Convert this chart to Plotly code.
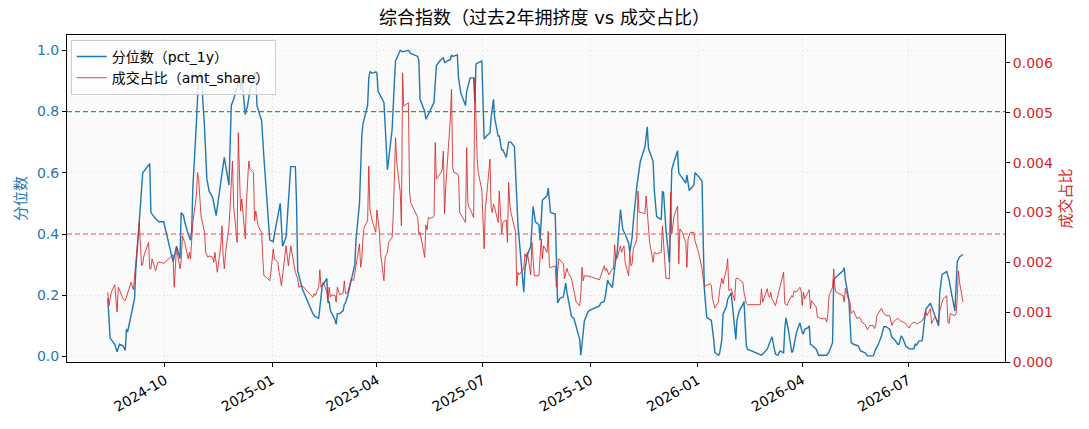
import plotly.graph_objects as go

# ---- 分位数（pct_1y） ----
pct_dates = [
    "2024-08-13","2024-08-15","2024-08-19","2024-08-21","2024-08-23","2024-08-26","2024-08-28","2024-08-29",
    "2024-08-30","2024-09-02","2024-09-04","2024-09-05","2024-09-06","2024-09-09","2024-09-11","2024-09-12",
    "2024-09-16","2024-09-18","2024-09-19","2024-09-23","2024-09-26","2024-09-30","2024-10-08","2024-10-10",
    "2024-10-11","2024-10-14","2024-10-15","2024-10-17","2024-10-18","2024-10-21","2024-10-23","2024-10-24",
    "2024-10-25","2024-10-28","2024-10-30","2024-11-01","2024-11-04","2024-11-06","2024-11-08","2024-11-11",
    "2024-11-14","2024-11-18","2024-11-19","2024-11-21","2024-11-25","2024-11-27","2024-11-29","2024-12-02",
    "2024-12-04","2024-12-05","2024-12-06","2024-12-09","2024-12-11","2024-12-13","2024-12-16","2024-12-18",
    "2024-12-19","2024-12-23","2024-12-25","2024-12-27","2024-12-30","2025-01-02","2025-01-03","2025-01-08",
    "2025-01-10","2025-01-13","2025-01-15","2025-01-17","2025-01-21","2025-01-22","2025-01-23","2025-01-27",
    "2025-02-05","2025-02-07","2025-02-10","2025-02-11","2025-02-13","2025-02-17","2025-02-18","2025-02-19",
    "2025-02-20","2025-02-24","2025-02-25","2025-02-26","2025-02-28","2025-03-03","2025-03-04","2025-03-05",
    "2025-03-07","2025-03-10","2025-03-12","2025-03-13","2025-03-14","2025-03-17","2025-03-19","2025-03-20",
    "2025-03-24","2025-03-25","2025-03-26","2025-03-28","2025-03-31","2025-04-01","2025-04-02","2025-04-07",
    "2025-04-08","2025-04-10","2025-04-14","2025-04-15","2025-04-16","2025-04-17","2025-04-21","2025-04-23",
    "2025-04-28","2025-04-30","2025-05-06","2025-05-07","2025-05-08","2025-05-12","2025-05-13","2025-05-15",
    "2025-05-19","2025-05-20","2025-05-22","2025-05-26","2025-05-28","2025-05-29","2025-06-03","2025-06-04",
    "2025-06-05","2025-06-09","2025-06-10","2025-06-12","2025-06-16","2025-06-17","2025-06-20","2025-06-23",
    "2025-06-24","2025-06-25","2025-06-27","2025-06-30","2025-07-02","2025-07-04","2025-07-07","2025-07-08",
    "2025-07-10","2025-07-11","2025-07-14","2025-07-15","2025-07-17","2025-07-18","2025-07-21","2025-07-23",
    "2025-07-25","2025-07-28","2025-07-31","2025-08-04","2025-08-05","2025-08-06","2025-08-08","2025-08-11",
    "2025-08-13","2025-08-15","2025-08-18","2025-08-19","2025-08-21","2025-08-25","2025-08-26","2025-08-28",
    "2025-09-01","2025-09-03","2025-09-05","2025-09-08","2025-09-10","2025-09-11","2025-09-15","2025-09-17",
    "2025-09-19","2025-09-22","2025-09-23","2025-09-25","2025-09-26","2025-09-29","2025-09-30","2025-10-09",
    "2025-10-10","2025-10-13","2025-10-14","2025-10-16","2025-10-17","2025-10-20","2025-10-22","2025-10-23",
    "2025-10-24","2025-10-27","2025-10-29","2025-10-31","2025-11-03","2025-11-04","2025-11-06","2025-11-07",
    "2025-11-10","2025-11-12","2025-11-13","2025-11-17","2025-11-19","2025-11-20","2025-11-24","2025-11-25",
    "2025-11-27","2025-12-01","2025-12-02","2025-12-03","2025-12-04","2025-12-05","2025-12-08","2025-12-09",
    "2025-12-10","2025-12-12","2025-12-15","2025-12-16","2025-12-18","2025-12-22","2025-12-23","2025-12-25",
    "2025-12-29","2025-12-30","2026-01-02","2026-01-05","2026-01-06","2026-01-07","2026-01-09","2026-01-12",
    "2026-01-13","2026-01-15","2026-01-16","2026-01-19","2026-01-20","2026-01-22","2026-01-23","2026-01-26",
    "2026-01-27","2026-01-30","2026-02-02","2026-02-03","2026-02-04","2026-02-06","2026-02-09","2026-02-10",
    "2026-02-12","2026-02-13","2026-02-25","2026-02-27","2026-03-02","2026-03-04","2026-03-05","2026-03-06",
    "2026-03-09","2026-03-11","2026-03-13","2026-03-16","2026-03-17","2026-03-18","2026-03-20","2026-03-23",
    "2026-03-24","2026-03-26","2026-03-27","2026-03-30","2026-04-01","2026-04-02","2026-04-03","2026-04-06",
    "2026-04-07","2026-04-08","2026-04-10","2026-04-13","2026-04-15","2026-04-22","2026-04-24","2026-04-27",
    "2026-04-28","2026-04-30","2026-05-06","2026-05-07","2026-05-08","2026-05-11","2026-05-12","2026-05-13",
    "2026-05-15","2026-05-19","2026-05-21","2026-05-25","2026-05-27","2026-06-01","2026-06-03","2026-06-05",
    "2026-06-08","2026-06-10","2026-06-12","2026-06-15","2026-06-17","2026-06-19","2026-06-22","2026-06-23",
    "2026-06-25","2026-06-26","2026-06-29","2026-07-02","2026-07-06","2026-07-07","2026-07-08","2026-07-10",
    "2026-07-13","2026-07-14","2026-07-16","2026-07-20","2026-07-22","2026-07-24","2026-07-27","2026-07-28",
    "2026-07-30","2026-08-03","2026-08-05","2026-08-07","2026-08-10","2026-08-12","2026-08-14","2026-08-17",
]
pct_values = [
    0.19,0.06,0.04,0.015,0.04,0.035,0.02,0.09,
    0.08,0.14,0.18,0.19,0.28,0.45,0.55,0.60,
    0.62,0.63,0.47,0.45,0.44,0.44,0.31,0.34,
    0.36,0.32,0.47,0.46,0.44,0.40,0.38,0.41,
    0.55,0.76,0.92,0.93,0.75,0.58,0.54,0.52,
    0.46,0.57,0.60,0.65,0.56,0.82,0.84,0.88,
    0.92,0.87,0.91,0.79,0.82,0.87,0.91,0.93,
    0.82,0.77,0.65,0.53,0.38,0.375,0.40,0.50,
    0.36,0.39,0.50,0.62,0.62,0.50,0.28,0.22,
    0.14,0.13,0.125,0.165,0.23,0.255,0.175,0.18,
    0.15,0.12,0.105,0.14,0.14,0.15,0.17,0.175,
    0.20,0.25,0.28,0.30,0.38,0.50,0.72,0.76,
    0.82,0.91,0.93,0.925,0.93,0.925,0.865,0.83,
    0.76,0.61,0.74,0.85,0.90,0.965,1.0,0.995,
    1.0,0.99,0.98,0.965,0.84,0.80,0.775,0.79,
    0.82,0.83,0.95,0.97,0.975,0.96,0.97,0.985,
    0.98,0.985,0.91,0.86,0.82,0.865,0.91,0.91,
    0.83,0.955,0.96,0.965,0.71,0.72,0.73,0.78,
    0.84,0.78,0.72,0.72,0.675,0.675,0.65,0.70,
    0.70,0.685,0.43,0.27,0.21,0.285,0.33,0.36,
    0.49,0.44,0.43,0.38,0.51,0.525,0.55,0.47,
    0.465,0.175,0.19,0.195,0.24,0.21,0.13,0.125,
    0.095,0.056,0.004,0.08,0.116,0.145,0.15,0.165,
    0.175,0.18,0.197,0.25,0.24,0.225,0.295,0.32,
    0.333,0.48,0.414,0.40,0.37,0.34,0.39,0.44,
    0.555,0.62,0.637,0.685,0.75,0.68,0.637,0.545,
    0.457,0.447,0.54,0.535,0.457,0.414,0.306,0.46,
    0.61,0.637,0.672,0.60,0.59,0.566,0.593,0.542,
    0.56,0.60,0.588,0.572,0.38,0.22,0.127,0.12,
    0.118,0.056,0.013,0.004,0.008,0.056,0.138,0.165,
    0.187,0.208,0.10,0.056,0.12,0.149,0.17,0.18,
    0.035,0.024,0.004,0.012,0.024,0.045,0.056,0.064,
    0.008,0.004,0.018,0.012,0.089,0.127,0.089,0.013,
    0.018,0.056,0.078,0.11,0.078,0.073,0.089,0.094,
    0.10,0.04,0.035,0.024,0.004,0.004,0.015,0.045,
    0.25,0.26,0.28,0.29,0.25,0.187,0.10,0.045,
    0.04,0.035,0.018,0.012,0.002,0.002,0.024,0.037,
    0.067,0.097,0.097,0.089,0.062,0.056,0.04,0.04,
    0.067,0.062,0.033,0.024,0.026,0.04,0.037,0.05,
    0.052,0.08,0.154,0.174,0.152,0.127,0.10,0.208,
    0.268,0.277,0.25,0.208,0.149,0.31,0.325,0.333,
]

# ---- 成交占比（amt_share） ----
amt_dates = [
    "2024-08-13","2024-08-14","2024-08-16","2024-08-19","2024-08-21","2024-08-22","2024-08-23","2024-08-26",
    "2024-08-28","2024-08-30","2024-09-02","2024-09-04","2024-09-05","2024-09-06","2024-09-09","2024-09-11",
    "2024-09-12","2024-09-13","2024-09-17","2024-09-18","2024-09-19","2024-09-20","2024-09-23","2024-09-25",
    "2024-09-27","2024-09-30","2024-10-08","2024-10-09","2024-10-10","2024-10-11","2024-10-14","2024-10-15",
    "2024-10-16","2024-10-17","2024-10-18","2024-10-21","2024-10-22","2024-10-23","2024-10-25","2024-10-28",
    "2024-10-29","2024-10-30","2024-11-01","2024-11-04","2024-11-05","2024-11-07","2024-11-08","2024-11-11",
    "2024-11-12","2024-11-13","2024-11-15","2024-11-18","2024-11-19","2024-11-20","2024-11-21","2024-11-22",
    "2024-11-25","2024-11-26","2024-11-28","2024-11-29","2024-12-02","2024-12-03","2024-12-05","2024-12-06",
    "2024-12-09","2024-12-10","2024-12-12","2024-12-13","2024-12-16","2024-12-17","2024-12-18","2024-12-20",
    "2024-12-23","2024-12-24","2024-12-25","2024-12-26","2024-12-30","2024-12-31","2025-01-02","2025-01-03",
    "2025-01-06","2025-01-07","2025-01-08","2025-01-09","2025-01-13","2025-01-15","2025-01-16","2025-01-17",
    "2025-01-20","2025-01-21","2025-01-23","2025-01-24","2025-01-27","2025-02-05","2025-02-06","2025-02-07",
    "2025-02-10","2025-02-11","2025-02-12","2025-02-13","2025-02-14","2025-02-17","2025-02-18","2025-02-19",
    "2025-02-20","2025-02-21","2025-02-24","2025-02-25","2025-02-26","2025-02-28","2025-03-03","2025-03-04",
    "2025-03-05","2025-03-07","2025-03-10","2025-03-12","2025-03-13","2025-03-14","2025-03-17","2025-03-18",
    "2025-03-19","2025-03-20","2025-03-21","2025-03-24","2025-03-25","2025-03-26","2025-03-28","2025-03-31",
    "2025-04-01","2025-04-03","2025-04-04","2025-04-07","2025-04-08","2025-04-10","2025-04-11","2025-04-14",
    "2025-04-15","2025-04-17","2025-04-18","2025-04-21","2025-04-22","2025-04-23","2025-04-24","2025-04-25",
    "2025-04-28","2025-04-29","2025-04-30","2025-05-06","2025-05-07","2025-05-08","2025-05-09","2025-05-12",
    "2025-05-13","2025-05-14","2025-05-15","2025-05-16","2025-05-19","2025-05-20","2025-05-21","2025-05-22",
    "2025-05-23","2025-05-26","2025-05-27","2025-05-28","2025-05-29","2025-05-30","2025-06-03","2025-06-04",
    "2025-06-05","2025-06-06","2025-06-09","2025-06-10","2025-06-11","2025-06-13","2025-06-16","2025-06-17",
    "2025-06-18","2025-06-19","2025-06-20","2025-06-23","2025-06-24","2025-06-26","2025-06-27","2025-06-30",
    "2025-07-01","2025-07-02","2025-07-03","2025-07-04","2025-07-07","2025-07-08","2025-07-09","2025-07-10",
    "2025-07-11","2025-07-14","2025-07-15","2025-07-16","2025-07-17","2025-07-18","2025-07-21","2025-07-22",
    "2025-07-23","2025-07-24","2025-07-25","2025-07-28","2025-07-29","2025-07-30","2025-07-31","2025-08-01",
    "2025-08-04","2025-08-05","2025-08-06","2025-08-07","2025-08-08","2025-08-11","2025-08-12","2025-08-13",
    "2025-08-14","2025-08-18","2025-08-19","2025-08-20","2025-08-21","2025-08-22","2025-08-25","2025-08-26",
    "2025-08-27","2025-08-29","2025-09-01","2025-09-02","2025-09-04","2025-09-05","2025-09-08","2025-09-09",
    "2025-09-11","2025-09-12","2025-09-15","2025-09-17","2025-09-18","2025-09-19","2025-09-22","2025-09-23",
    "2025-09-24","2025-09-25","2025-09-26","2025-09-29","2025-09-30","2025-10-09","2025-10-10","2025-10-13",
    "2025-10-14","2025-10-15","2025-10-17","2025-10-20","2025-10-21","2025-10-22","2025-10-23","2025-10-24",
    "2025-10-27","2025-10-28","2025-10-30","2025-10-31","2025-11-03","2025-11-04","2025-11-05","2025-11-06",
    "2025-11-07","2025-11-10","2025-11-11","2025-11-12","2025-11-14","2025-11-17","2025-11-18","2025-11-19",
    "2025-11-20","2025-11-21","2025-11-24","2025-11-25","2025-11-27","2025-12-01","2025-12-02","2025-12-03",
    "2025-12-04","2025-12-05","2025-12-08","2025-12-09","2025-12-10","2025-12-12","2025-12-15","2025-12-16",
    "2025-12-17","2025-12-19","2025-12-22","2025-12-23","2025-12-24","2025-12-26","2025-12-29","2025-12-30",
    "2026-01-02","2026-01-05","2026-01-06","2026-01-07","2026-01-08","2026-01-12","2026-01-13","2026-01-14",
    "2026-01-16","2026-01-19","2026-01-20","2026-01-22","2026-01-23","2026-01-26","2026-01-27","2026-01-28",
    "2026-01-30","2026-02-02","2026-02-03","2026-02-05","2026-02-06","2026-02-09","2026-02-10","2026-02-12",
    "2026-02-13","2026-02-24","2026-02-25","2026-02-26","2026-03-02","2026-03-03","2026-03-04","2026-03-05",
    "2026-03-06","2026-03-09","2026-03-11","2026-03-13","2026-03-16","2026-03-17","2026-03-19","2026-03-20",
    "2026-03-23","2026-03-24","2026-03-25","2026-03-27","2026-03-30","2026-03-31","2026-04-01","2026-04-02",
    "2026-04-03","2026-04-06","2026-04-07","2026-04-08","2026-04-09","2026-04-10","2026-04-13","2026-04-14",
    "2026-04-15","2026-04-17","2026-04-21","2026-04-22","2026-04-23","2026-04-24","2026-04-27","2026-04-28",
    "2026-04-29","2026-04-30","2026-05-06","2026-05-07","2026-05-08","2026-05-11","2026-05-12","2026-05-13",
    "2026-05-14","2026-05-15","2026-05-18","2026-05-20","2026-05-21","2026-05-22","2026-05-25","2026-05-26",
    "2026-05-27","2026-05-29","2026-06-01","2026-06-02","2026-06-03","2026-06-04","2026-06-05","2026-06-08",
    "2026-06-10","2026-06-12","2026-06-15","2026-06-16","2026-06-17","2026-06-18","2026-06-22","2026-06-24",
    "2026-06-26","2026-06-29","2026-06-30","2026-07-02","2026-07-03","2026-07-06","2026-07-08","2026-07-09",
    "2026-07-13","2026-07-15","2026-07-16","2026-07-17","2026-07-20","2026-07-21","2026-07-22","2026-07-24",
    "2026-07-27","2026-07-28","2026-07-30","2026-07-31","2026-08-03","2026-08-04","2026-08-05","2026-08-06",
    "2026-08-10","2026-08-11","2026-08-12","2026-08-13","2026-08-14","2026-08-17",
]
amt_values = [
    1.40e-3,1.13e-3,1.40e-3,1.55e-3,1.00e-3,1.50e-3,1.45e-3,1.27e-3,
    1.23e-3,1.37e-3,1.60e-3,1.45e-3,1.73e-3,2.10e-3,2.80e-3,1.93e-3,
    1.97e-3,2.13e-3,2.40e-3,1.87e-3,1.87e-3,2.07e-3,1.83e-3,2.00e-3,
    2.00e-3,1.98e-3,2.15e-3,1.50e-3,2.00e-3,2.30e-3,1.87e-3,2.03e-3,
    2.53e-3,2.47e-3,2.40e-3,2.07e-3,2.20e-3,2.07e-3,2.80e-3,3.33e-3,
    3.80e-3,3.67e-3,2.93e-3,2.60e-3,2.20e-3,2.10e-3,2.13e-3,2.10e-3,
    2.00e-3,2.20e-3,1.80e-3,2.33e-3,2.73e-3,2.13e-3,1.87e-3,2.17e-3,
    2.73e-3,3.13e-3,4.03e-3,3.13e-3,2.40e-3,4.60e-3,3.03e-3,3.27e-3,
    2.47e-3,3.20e-3,4.03e-3,3.87e-3,3.80e-3,2.83e-3,3.03e-3,2.73e-3,
    2.60e-3,2.10e-3,1.73e-3,1.72e-3,1.63e-3,1.80e-3,2.27e-3,2.07e-3,
    2.00e-3,1.80e-3,1.70e-3,1.53e-3,2.33e-3,1.93e-3,2.13e-3,2.33e-3,
    1.93e-3,1.80e-3,1.67e-3,1.50e-3,1.53e-3,1.30e-3,1.37e-3,1.33e-3,
    1.50e-3,1.85e-3,1.50e-3,1.55e-3,1.60e-3,1.40e-3,1.23e-3,1.50e-3,
    1.30e-3,1.35e-3,1.33e-3,1.20e-3,1.50e-3,1.35e-3,1.38e-3,1.63e-3,
    1.37e-3,1.40e-3,1.67e-3,1.63e-3,1.80e-3,1.87e-3,2.37e-3,1.90e-3,
    2.07e-3,2.50e-3,2.70e-3,2.83e-3,3.93e-3,3.05e-3,2.83e-3,2.60e-3,
    3.05e-3,2.65e-3,2.20e-3,1.63e-3,2.10e-3,2.20e-3,2.40e-3,2.50e-3,
    2.95e-3,4.50e-3,4.00e-3,3.40e-3,2.73e-3,5.80e-3,5.13e-3,5.15e-3,
    5.20e-3,3.40e-3,3.20e-3,2.90e-3,2.55e-3,2.60e-3,2.45e-3,2.10e-3,
    2.75e-3,2.65e-3,2.90e-3,2.88e-3,2.90e-3,2.93e-3,4.40e-3,3.67e-3,
    3.70e-3,3.80e-3,3.87e-3,4.23e-3,2.97e-3,3.50e-3,4.90e-3,5.47e-3,
    3.90e-3,3.80e-3,3.78e-3,3.73e-3,3.00e-3,2.93e-3,2.80e-3,4.30e-3,
    3.20e-3,3.10e-3,3.07e-3,2.90e-3,5.70e-3,4.07e-3,3.80e-3,3.45e-3,
    2.80e-3,2.27e-3,3.10e-3,3.30e-3,4.07e-3,3.10e-3,3.00e-3,3.17e-3,
    3.10e-3,2.80e-3,3.43e-3,3.10e-3,2.57e-3,2.80e-3,2.85e-3,2.40e-3,
    3.60e-3,3.17e-3,3.00e-3,2.70e-3,2.60e-3,1.53e-3,1.80e-3,1.75e-3,
    1.85e-3,1.87e-3,2.17e-3,2.10e-3,2.20e-3,1.75e-3,2.40e-3,2.13e-3,
    1.73e-3,1.73e-3,2.20e-3,2.47e-3,2.07e-3,2.33e-3,2.20e-3,2.62e-3,
    1.90e-3,1.90e-3,1.93e-3,1.50e-3,2.07e-3,2.05e-3,1.97e-3,1.67e-3,
    1.88e-3,1.80e-3,1.67e-3,1.40e-3,1.33e-3,1.20e-3,1.13e-3,1.37e-3,
    1.90e-3,1.63e-3,1.73e-3,1.72e-3,1.72e-3,1.65e-3,1.72e-3,1.93e-3,
    1.83e-3,1.88e-3,1.75e-3,1.87e-3,1.87e-3,2.35e-3,2.07e-3,2.07e-3,
    2.33e-3,2.20e-3,2.33e-3,2.00e-3,1.73e-3,2.20e-3,1.93e-3,1.97e-3,
    2.27e-3,2.45e-3,3.43e-3,3.00e-3,3.00e-3,2.97e-3,3.33e-3,3.00e-3,
    2.60e-3,2.40e-3,2.00e-3,2.20e-3,2.17e-3,2.20e-3,2.73e-3,2.30e-3,
    1.87e-3,1.68e-3,1.67e-3,3.40e-3,2.57e-3,2.93e-3,3.13e-3,1.97e-3,
    2.67e-3,2.60e-3,2.40e-3,1.90e-3,2.47e-3,2.60e-3,2.60e-3,2.43e-3,
    2.20e-3,1.87e-3,1.67e-3,1.50e-3,1.53e-3,1.57e-3,1.53e-3,1.27e-3,
    1.08e-3,1.20e-3,1.43e-3,1.68e-3,1.57e-3,1.87e-3,2.07e-3,1.43e-3,
    1.47e-3,1.23e-3,1.67e-3,1.68e-3,1.65e-3,1.60e-3,1.40e-3,1.17e-3,
    1.15e-3,1.15e-3,1.47e-3,1.20e-3,1.47e-3,1.33e-3,1.30e-3,1.40e-3,
    1.27e-3,1.13e-3,1.33e-3,1.53e-3,1.80e-3,1.17e-3,1.13e-3,1.20e-3,
    1.33e-3,1.30e-3,1.43e-3,1.40e-3,1.50e-3,1.43e-3,1.13e-3,1.40e-3,
    1.27e-3,1.40e-3,1.45e-3,1.07e-3,1.23e-3,1.20e-3,1.10e-3,0.90e-3,
    0.90e-3,0.87e-3,0.87e-3,0.80e-3,0.97e-3,1.33e-3,1.50e-3,1.87e-3,
    1.50e-3,1.40e-3,1.33e-3,1.20e-3,1.48e-3,1.23e-3,1.20e-3,0.97e-3,
    1.00e-3,1.03e-3,0.87e-3,0.90e-3,0.87e-3,0.80e-3,0.75e-3,0.70e-3,
    0.65e-3,0.73e-3,0.73e-3,0.67e-3,0.73e-3,0.93e-3,0.97e-3,1.08e-3,
    0.97e-3,0.93e-3,0.93e-3,0.83e-3,0.73e-3,0.80e-3,0.88e-3,0.83e-3,
    0.80e-3,0.77e-3,0.73e-3,0.68e-3,0.75e-3,0.80e-3,0.77e-3,0.77e-3,
    0.83e-3,0.93e-3,1.03e-3,0.93e-3,1.07e-3,0.77e-3,0.83e-3,0.90e-3,
    0.80e-3,1.03e-3,1.20e-3,1.27e-3,1.33e-3,0.80e-3,0.77e-3,0.97e-3,
    0.93e-3,0.97e-3,1.27e-3,1.83e-3,1.60e-3,1.20e-3,
]

# reference levels on the percentile axis
high_level = 0.8
low_level = 0.4

title_text = "综合指数（过去2年拥挤度 vs 成交占比）"
blue = "#1f77b4"
red = "#d62728"
green = "rgb(40,170,40)"
cjk = "DejaVu Sans, Noto Sans CJK SC"
grid_color = "#dedede"
grid_dash = "1px,3px"

fig = go.Figure()
fig.add_trace(go.Scatter(
    x=pct_dates, y=pct_values, mode="lines", name="分位数（pct_1y）",
    line=dict(color=blue, width=1.4), yaxis="y"))
fig.add_trace(go.Scatter(
    x=amt_dates, y=amt_values, mode="lines", name="成交占比（amt_share）",
    line=dict(color="rgba(214,39,40,0.85)", width=1), yaxis="y2"))

fig.add_hline(y=high_level, line=dict(color=green, width=1.2, dash="5px,3px"), layer="above")
fig.add_hline(y=low_level, line=dict(color="rgb(240,80,80)", width=1.1, dash="5px,3px"), layer="above")

fig.update_layout(
    width=1089, height=429,
    margin=dict(l=67, r=84, t=35, b=67),
    paper_bgcolor="white",
    plot_bgcolor="#fafafa",
    font=dict(family=cjk, size=13, color="black"),
    title=dict(text=title_text, x=0.5, xanchor="center", y=1 - 18 / 429, yanchor="middle",
               yref="container", font=dict(family=cjk, size=18, color="black")),
    showlegend=True,
    legend=dict(x=0.004, y=0.985, xanchor="left", yanchor="top",
                bgcolor="rgba(255,255,255,0.8)", bordercolor="#cccccc", borderwidth=1,
                font=dict(family=cjk, size=14), itemwidth=30, tracegroupgap=0),
    xaxis=dict(
        type="date", range=["2024-07-09", "2026-09-22"],
        tick0="2024-10-01", dtick="M3", tickformat="%Y-%m", tickangle=-30,
        ticks="outside", ticklen=4, tickcolor="black", tickwidth=1,
        showline=True, linecolor="black", linewidth=1, mirror=True,
        showgrid=True, gridcolor=grid_color, griddash=grid_dash, gridwidth=1,
        zeroline=False, tickfont=dict(size=14, color="black")),
    yaxis=dict(
        range=[-0.018, 1.05], tick0=0, dtick=0.2, tickformat=".1f",
        ticks="outside", ticklen=4, tickcolor="black",
        showline=True, linecolor="black", linewidth=1, mirror=True,
        showgrid=True, gridcolor=grid_color, griddash=grid_dash, gridwidth=1,
        zeroline=False, tickfont=dict(size=14, color=blue),
        title=dict(text="分位数", font=dict(size=15, color=blue), standoff=6)),
    yaxis2=dict(
        overlaying="y", side="right", range=[0, 0.00656], tick0=0, dtick=0.001,
        tickformat=".3f", ticks="outside", ticklen=4, tickcolor="black",
        showline=True, linecolor="black", linewidth=1,
        showgrid=False, zeroline=False, tickfont=dict(size=14, color=red),
        title=dict(text="成交占比", font=dict(size=15, color=red), standoff=8)),
)

fig.write_html("out.html", config={"displayModeBar": False},
               post_script="document.body.style.margin='0';")
